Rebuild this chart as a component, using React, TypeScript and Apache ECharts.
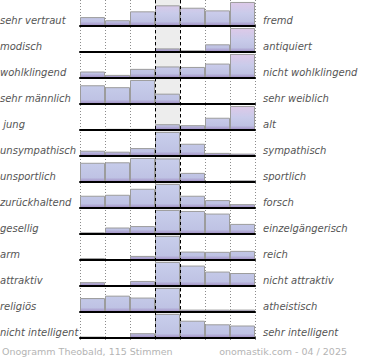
import React, { useEffect, useRef } from "react";
import * as echarts from "echarts";

const steps = ["1", "2", "3", "4", "5", "6", "7"];

const leftLabels = [
  "sehr vertraut", "modisch", "wohlklingend", "sehr männlich", " jung",
  "unsympathisch", "unsportlich", "zurückhaltend", "gesellig", "arm",
  "attraktiv", "religiös", "nicht intelligent",
];
const rightLabels = [
  "fremd", "antiquiert", "nicht wohlklingend", "sehr weiblich", "alt",
  "sympathisch", "sportlich", "forsch", "einzelgängerisch", "reich",
  "nicht attraktiv", "atheistisch", "sehr intelligent",
];

const vertraut = [37, 24, 61, 86, 76, 65, 100];
const modisch = [0, 0, 0, 15, 7, 32, 100];
const wohlklingend = [27, 13, 38, 48, 46, 60, 100];
const maennlich = [78, 70, 100, 43, 0, 0, 0];
const jung = [0, 5, 5, 24, 20, 51, 100];
const unsympathisch = [22, 18, 33, 100, 51, 13, 10];
const unsportlich = [80, 82, 100, 98, 38, 0, 7];
const zurueckhaltend = [51, 55, 80, 100, 51, 33, 16];
const gesellig = [7, 27, 33, 100, 96, 85, 42];
const arm = [8, 4, 17, 100, 35, 34, 38];
const attraktiv = [16, 4, 21, 100, 85, 60, 54];
const religioes = [58, 68, 60, 100, 10, 10, 10];
const intelligent = [6, 0, 20, 100, 72, 57, 52];

const rows = [
  vertraut, modisch, wohlklingend, maennlich, jung, unsympathisch,
  unsportlich, zurueckhaltend, gesellig, arm, attraktiv, religioes, intelligent,
];

const footerLeft = "Onogramm Theobald, 115 Stimmen";
const footerRight = "onomastik.com - 04 / 2025";

const pinkRows = new Set([0, 1, 2, 4]);

export default function App() {
  const ref = useRef<HTMLDivElement>(null);
  useEffect(() => {
    document.body.style.margin = "0";
    if (!ref.current) return;
    const chart = echarts.init(ref.current, null, { renderer: "svg" });

    const LEFT = 80;
    const WIDTH = 175;
    const ROW = 26;
    const TOP0 = 1;
    const H = 25;

    const grids: any[] = [];
    const xAxes: any[] = [];
    const yAxes: any[] = [];
    const series: any[] = [];
    const graphics: any[] = [];

    rows.forEach((vals, i) => {
      const top = TOP0 + ROW * i;
      grids.push({ left: LEFT, width: WIDTH, top, height: H });
      xAxes.push({
        type: "category",
        data: steps,
        gridIndex: i,
        boundaryGap: true,
        z: 4,
        axisLine: {
          show: true,
          lineStyle: { color: "#000", width: 2 },
        },
        axisTick: { show: false },
        axisLabel: { show: false },
        splitLine: { show: false },
      });
      yAxes.push({
        type: "value",
        gridIndex: i,
        min: 0,
        max: 104,
        show: false,
        splitLine: { show: false },
      });
      const stops = pinkRows.has(i)
        ? [
            { offset: 0, color: "#e0c9e8" },
            { offset: 0.5, color: "#c9cbea" },
            { offset: 0.82, color: "#bfc2e3" },
            { offset: 0.96, color: "#a596c9" },
          ]
        : [
            { offset: 0, color: "#c9cfec" },
            { offset: 0.82, color: "#bfc3e4" },
            { offset: 0.96, color: "#a697c9" },
          ];
      series.push({
        type: "bar",
        xAxisIndex: i,
        yAxisIndex: i,
        data: vals,
        barCategoryGap: "0%",
        silent: true,
        z: 2,
        itemStyle: {
          color: {
            type: "linear",
            x: 0,
            y: top,
            x2: 0,
            y2: top + H,
            global: true,
            colorStops: stops,
          },
          borderColor: "#9c9c9c",
          borderWidth: 1,
        },
      });
      graphics.push({
        type: "text",
        left: 0,
        top: top + 14,
        style: {
          text: leftLabels[i],
          font: "italic 10px 'DejaVu Sans'",
          fill: "#555",
        },
      });
      graphics.push({
        type: "text",
        left: 263,
        top: top + 14,
        style: {
          text: rightLabels[i],
          font: "italic 10px 'DejaVu Sans'",
          fill: "#555",
        },
      });
    });

    // background overlay grid (dotted column lines + middle column shade)
    const bgIndex = rows.length;
    grids.push({ left: LEFT, width: WIDTH, top: 0, height: 340 });
    xAxes.push({
      type: "category",
      data: steps,
      gridIndex: bgIndex,
      boundaryGap: true,
      z: 0,
      axisLine: { show: false },
      axisTick: { show: false },
      axisLabel: { show: false },
      splitLine: {
        show: true,
        interval: 0,
        lineStyle: { color: "#8c8c8c", width: 1, type: [1, 2] },
      },
      splitArea: {
        show: true,
        interval: 0,
        areaStyle: {
          color: [
            "rgba(0,0,0,0)", "rgba(0,0,0,0)", "rgba(0,0,0,0)", "#ededed",
            "rgba(0,0,0,0)", "rgba(0,0,0,0)", "rgba(0,0,0,0)",
          ],
        },
      },
    });
    yAxes.push({ type: "value", gridIndex: bgIndex, min: 0, max: 1, show: false, splitLine: { show: false } });

    // foreground overlay grid (dashed middle column borders)
    const fgIndex = rows.length + 1;
    grids.push({ left: LEFT, width: WIDTH, top: 0, height: 340 });
    xAxes.push({
      type: "value",
      gridIndex: fgIndex,
      min: 0,
      max: 7,
      interval: 1,
      z: 6,
      axisLine: { show: false },
      axisTick: { show: false },
      axisLabel: { show: false },
      splitLine: {
        show: true,
        lineStyle: {
          color: [
            "rgba(0,0,0,0)", "rgba(0,0,0,0)", "rgba(0,0,0,0)", "#000", "#000",
            "rgba(0,0,0,0)", "rgba(0,0,0,0)", "rgba(0,0,0,0)",
          ],
          width: 1,
          type: [3, 3],
        },
      },
    });
    yAxes.push({ type: "value", gridIndex: fgIndex, min: 0, max: 1, show: false, splitLine: { show: false } });

    graphics.push({
      type: "text",
      left: 2,
      top: 346,
      style: { text: footerLeft, font: "9.5px 'DejaVu Sans'", fill: "#b4b4b4" },
    });
    graphics.push({
      type: "text",
      right: 23,
      top: 346,
      style: { text: footerRight, font: "9.5px 'DejaVu Sans'", fill: "#b4b4b4" },
    });

    chart.setOption({
      animation: false,
      backgroundColor: "#fff",
      grid: grids,
      xAxis: xAxes,
      yAxis: yAxes,
      series,
      graphic: graphics,
    });
    return () => chart.dispose();
  }, []);
  return <div ref={ref} style={{ width: 370, height: 360 }} />;
}
